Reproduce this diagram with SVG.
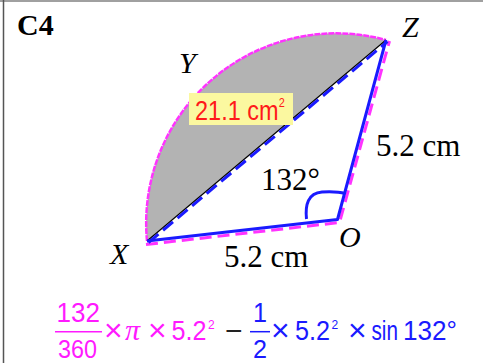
<svg xmlns="http://www.w3.org/2000/svg" width="483" height="363" viewBox="0 0 483 363">
<style>
.serif{font-family:"Liberation Serif","Times New Roman",serif;fill:#000}
.it{font-style:italic}
.hand{font-family:"Liberation Sans",Arial,sans-serif}
.mag{fill:#ff1aff}
.blu{fill:#1a1aff}
.x{font-size:32px}
</style>
<rect width="483" height="363" fill="#fff"/>
<line x1="0" y1="1" x2="483" y2="1" stroke="#a0a0a0" stroke-width="2"/>
<line x1="3.5" y1="0" x2="3.5" y2="363" stroke="#555" stroke-width="1.5"/>
<text class="serif" x="17" y="35" font-size="30" font-weight="bold">C4</text>

<g id="segment">
<path d="M147,241 A190,190 0 0 1 386,40 Z" fill="#b3b3b3" stroke="none"/>
</g>
<g id="connectors">
<path d="M147,241 A190,190 0 0 1 386,40" fill="none" stroke="#ff33ff" stroke-width="2.5" stroke-dasharray="6 1"/>
<path d="M146,244.5 L339.5,222.5 L389.5,41" fill="none" stroke="#ff33ff" stroke-width="3" stroke-dasharray="12 6"/>
<line x1="147" y1="241" x2="386" y2="40" stroke="#000" stroke-width="1.2"/>
<line x1="148.5" y1="242.5" x2="387.5" y2="41.5" stroke="#1a1aff" stroke-width="3" stroke-dasharray="13 6"/>
<path d="M147,241 L337.5,219.5 L386,40" fill="none" stroke="#1a1aff" stroke-width="3" stroke-linejoin="round"/>
<path d="M306.5,219 C305,205 308,193 322,192 C332,191.5 340,192 345,193.5" fill="none" stroke="#1a1aff" stroke-width="3"/>
</g>

<g id="label-area">
<rect x="189" y="93" width="104" height="32" fill="#fbf8a0"/>
<text class="hand" transform="translate(195,120) scale(0.84,1)" font-size="28" fill="#ff1a1a">21.1 cm<tspan font-size="13" dy="-13">2</tspan></text>
</g>

<g id="node-Z"><text class="serif it" x="402" y="37" font-size="30">Z</text></g>
<g id="node-Y"><text class="serif it" x="179" y="73" font-size="30">Y</text></g>
<g id="node-X"><text class="serif it" x="110" y="264" font-size="30">X</text></g>
<g id="node-O"><text class="serif it" x="339" y="247" font-size="30">O</text></g>
<text class="serif" x="376" y="156" font-size="31">5.2 cm</text>
<text class="serif" x="224" y="267" font-size="31">5.2 cm</text>
<text class="serif" x="261" y="190" font-size="31">132°</text>

<g id="formula" class="hand" font-size="27">
<text class="mag" x="56.5" y="322" textLength="43.5" lengthAdjust="spacingAndGlyphs">132</text>
<line x1="55" y1="331.7" x2="102" y2="331.7" stroke="#ff1aff" stroke-width="1.5"/>
<text class="mag" x="58" y="357.5" font-size="26" textLength="39" lengthAdjust="spacingAndGlyphs">360</text>
<text class="mag x" x="104" y="341">×</text>
<text class="mag" x="125" y="340" font-family="Liberation Serif" font-style="italic" font-size="30">π</text>
<text class="mag x" x="148" y="341">×</text>
<text class="mag" x="171.5" y="340" textLength="35" lengthAdjust="spacingAndGlyphs">5.2</text>
<text class="mag" x="208" y="329" font-size="12">2</text>
<text x="225" y="341" fill="#222" font-size="30">−</text>
<text class="blu" x="253" y="322" textLength="14" lengthAdjust="spacingAndGlyphs">1</text>
<line x1="250" y1="331.7" x2="270" y2="331.7" stroke="#1a1aff" stroke-width="1.5"/>
<text class="blu" x="253" y="357.5" font-size="26" textLength="14" lengthAdjust="spacingAndGlyphs">2</text>
<text class="blu x" x="271" y="341">×</text>
<text class="blu" x="295" y="340" textLength="35" lengthAdjust="spacingAndGlyphs">5.2</text>
<text class="blu" x="331.5" y="329" font-size="12">2</text>
<text class="blu x" x="348" y="341">×</text>
<text class="blu" x="371.5" y="340" textLength="26.5" lengthAdjust="spacingAndGlyphs">sin</text>
<text class="blu" x="403" y="340" textLength="54" lengthAdjust="spacingAndGlyphs">132°</text>
</g>
</svg>
